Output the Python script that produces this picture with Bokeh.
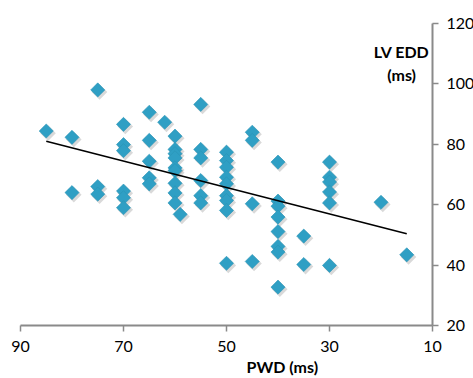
import math
from bokeh.plotting import figure
from bokeh.models import Range1d, FixedTicker, Label, ColumnDataSource, Title
from bokeh.transform import dodge
from bokeh.embed import file_html
from bokeh.resources import INLINE

# PWD (ms) values, one per point
pwd = ([85] +
       [80] * 2 +
       [75] * 3 +
       [70] * 6 +
       [65] * 5 +
       [62] +
       [60] * 9 +
       [59] +
       [55] * 6 +
       [50] * 9 +
       [45] * 4 +
       [40] * 8 +
       [35] * 2 +
       [30] * 6 +
       [20] +
       [15])

# LV EDD (ms) values, matching order
lvedd = ([84.4] +
         [82.3, 64.0] +
         [98.0, 66.0, 63.5] +
         [86.6, 79.9, 77.9, 64.5, 62.3, 59.0] +
         [90.6, 81.3, 74.4, 68.9, 66.9] +
         [87.3] +
         [82.7, 78.3, 76.9, 75.5, 72.2, 71.3, 67.1, 63.9, 60.6] +
         [56.8] +
         [93.2, 78.3, 75.5, 68.0, 63.0, 60.6] +
         [77.4, 74.6, 72.4, 69.1, 66.9, 63.0, 61.4, 58.1, 40.6] +
         [84.0, 81.3, 60.3, 41.2] +
         [74.1, 61.2, 59.5, 55.9, 51.1, 46.2, 44.3, 32.7] +
         [49.6, 40.2] +
         [74.1, 69.1, 67.5, 64.2, 60.6, 39.9] +
         [60.8] +
         [43.4])

# Linear trend line end points
trend_x = [85, 15]
trend_y = [81.0, 50.4]

x_ticks = [90, 70, 50, 30, 10]
y_ticks = [20, 40, 60, 80, 100, 120]

FONT = "Lato"
AXIS_COLOR = "#8a8a8a"
MARKER_COLOR = "#2f9fc4"

src = ColumnDataSource(dict(x=pwd, y=lvedd))

p = figure(frame_width=412, frame_height=302,
           x_range=Range1d(90, 10), y_range=Range1d(20, 120),
           y_axis_location="right",
           output_backend="svg", toolbar_location=None,
           min_border_left=20, min_border_top=23,
           min_border_bottom=53, min_border_right=41)
p.outline_line_color = None
p.grid.visible = False
p.background_fill_color = "white"
p.border_fill_color = "white"

for ax, ticks in ((p.xaxis[0], x_ticks), (p.yaxis[0], y_ticks)):
    ax.ticker = FixedTicker(ticks=ticks)
    ax.minor_tick_line_color = None
    ax.axis_line_color = AXIS_COLOR
    ax.axis_line_width = 2
    ax.major_tick_line_color = AXIS_COLOR
    ax.major_tick_line_width = 1.5
    ax.major_tick_in = 0
    ax.major_tick_out = 6
    ax.major_label_text_font = FONT
    ax.major_label_text_font_size = "16px"
    ax.major_label_text_color = "black"

p.xaxis.major_label_standoff = 9
p.yaxis.major_label_standoff = 8

# shadow
p.scatter(x=dodge("x", -0.35, range=p.x_range), y=dodge("y", -0.7, range=p.y_range),
          source=src, marker="square", size=11, angle=math.pi / 4,
          fill_color="#000000", fill_alpha=0.15, line_color=None)
p.scatter(x="x", y="y", source=src, marker="square", size=10, angle=math.pi / 4,
          fill_color=MARKER_COLOR, line_color="#2a93b6", line_width=0.6)

p.line(trend_x, trend_y, line_color="black", line_width=1.6)

p.add_layout(Label(x=16.0, y=110.6, text="LV EDD", text_font=FONT, text_font_size="16px",
                   text_font_style="bold", text_align="center", text_baseline="middle",
                   text_color="black"))
p.add_layout(Label(x=16.0, y=103.0, text="(ms)", text_font=FONT, text_font_size="16px",
                   text_font_style="bold", text_align="center", text_baseline="middle",
                   text_color="black"))

p.add_layout(Title(text="PWD (ms)", align="left", offset=226, standoff=0,
                   text_font=FONT, text_font_size="16px", text_font_style="bold",
                   text_color="black"), "below")

open("out.html", "w").write(file_html(p, INLINE))
